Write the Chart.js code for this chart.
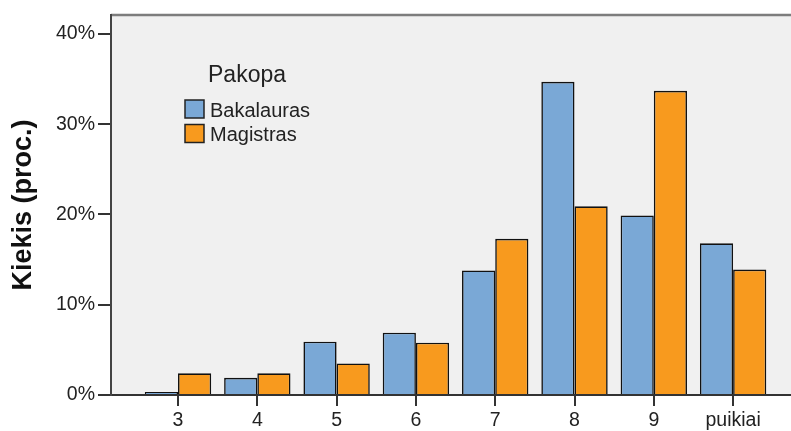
<!DOCTYPE html>
<html><head><meta charset="utf-8">
<script src="https://cdn.jsdelivr.net/npm/chart.js@4/dist/chart.umd.min.js"></script>
<style>html,body{margin:0;padding:0;background:#fff;overflow:hidden}#wrap{width:791px;height:431px;position:relative}</style>
</head><body><div id="wrap"><canvas id="c"></canvas></div>
<script>
const categories = ['3', '4', '5', '6', '7', '8', '9', 'puikiai'];
const bakalauras = [0, 1.9, 5.9, 6.9, 13.8, 34.7, 19.9, 16.8];
const magistras = [2.4, 2.4, 3.5, 5.8, 17.3, 20.9, 33.7, 13.9];
const seriesNames = ['Bakalauras', 'Magistras'];
const legendTitle = 'Pakopa';
const yTickValues = [0, 10, 20, 30, 40];
const yTitle = 'Kiekis (proc.)';

const FONT = "'Liberation Sans', Arial, sans-serif";
const COLORS = ['#7AA8D6', '#F89A1E'];

const bgPlugin = {
  id: 'bg',
  beforeDraw(chart) {
    const {ctx, chartArea: a} = chart;
    ctx.save();
    ctx.fillStyle = '#F0F0F0';
    ctx.fillRect(a.left, a.top, a.right - a.left, a.bottom - a.top);
    ctx.strokeStyle = '#7d7d7d';
    ctx.lineWidth = 2.5;
    ctx.beginPath();
    ctx.moveTo(a.left, a.top);
    ctx.lineTo(a.right, a.top);
    ctx.stroke();
    ctx.restore();
  }
};

const legendPlugin = {
  id: 'customLegend',
  afterDraw(chart) {
    const ctx = chart.ctx;
    ctx.save();
    ctx.fillStyle = '#222';
    ctx.textBaseline = 'alphabetic';
    ctx.textAlign = 'left';
    ctx.font = '23px ' + FONT;
    ctx.fillText(legendTitle, 208, 81.5);
    chart.data.datasets.forEach((ds, i) => {
      const y = 100 + i * 24.5;
      ctx.fillStyle = ds.backgroundColor;
      ctx.fillRect(185, y, 19, 18);
      ctx.strokeStyle = '#222';
      ctx.lineWidth = 1.5;
      ctx.strokeRect(185, y, 19, 18);
      ctx.fillStyle = '#222';
      ctx.font = '20px ' + FONT;
      ctx.fillText(ds.label, 210, y + 16.5);
    });
    ctx.restore();
  }
};

const toPoints = arr => arr.map((v, i) => ({x: i, y: v}));

new Chart(document.getElementById('c'), {
  type: 'bar',
  data: {
    datasets: [
      {label: seriesNames[0], data: toPoints(bakalauras), backgroundColor: COLORS[0]},
      {label: seriesNames[1], data: toPoints(magistras), backgroundColor: COLORS[1]}
    ]
  },
  options: {
    responsive: true,
    maintainAspectRatio: false,
    animation: false,
    devicePixelRatio: 1,
    layout: {padding: {top: 15, right: 0, left: 0, bottom: 0}},
    datasets: {
      bar: {
        borderColor: '#111',
        borderWidth: 1.6,
        categoryPercentage: 0.837,
        barPercentage: 1,
        minBarLength: 3
      }
    },
    plugins: {legend: {display: false}, tooltip: {enabled: false}},
    scales: {
      x: {
        type: 'linear',
        min: -0.845,
        max: 7.73,
        offset: false,
        z: 1,
        afterBuildTicks(scale) { scale.ticks = categories.map((_, i) => ({value: i})); },
        afterFit(scale) { scale.height = 36; },
        ticks: {
          autoSkip: false, maxRotation: 0, minRotation: 0, padding: 3,
          color: '#222', font: {family: FONT, size: 19.5},
          callback: v => categories[v]
        },
        grid: {offset: false, drawOnChartArea: false, drawTicks: true, tickLength: 11, color: '#333', lineWidth: 2},
        border: {display: true, color: '#333', width: 2}
      },
      y: {
        min: 0,
        max: 42.1,
        z: 1,
        afterBuildTicks(scale) { scale.ticks = yTickValues.map(v => ({value: v})); },
        afterFit(scale) { scale.width = 111; },
        ticks: {
          padding: 3, color: '#222', font: {family: FONT, size: 19.5},
          callback: v => v + '%'
        },
        grid: {drawOnChartArea: false, drawTicks: true, tickLength: 13, color: '#333', lineWidth: 2},
        border: {display: true, color: '#444', width: 2},
        title: {
          display: true, text: yTitle, color: '#111',
          font: {family: FONT, size: 27, weight: 'bold'},
          padding: {top: 7, bottom: 0}
        }
      }
    }
  },
  plugins: [bgPlugin, legendPlugin]
});
</script>
</body></html>
